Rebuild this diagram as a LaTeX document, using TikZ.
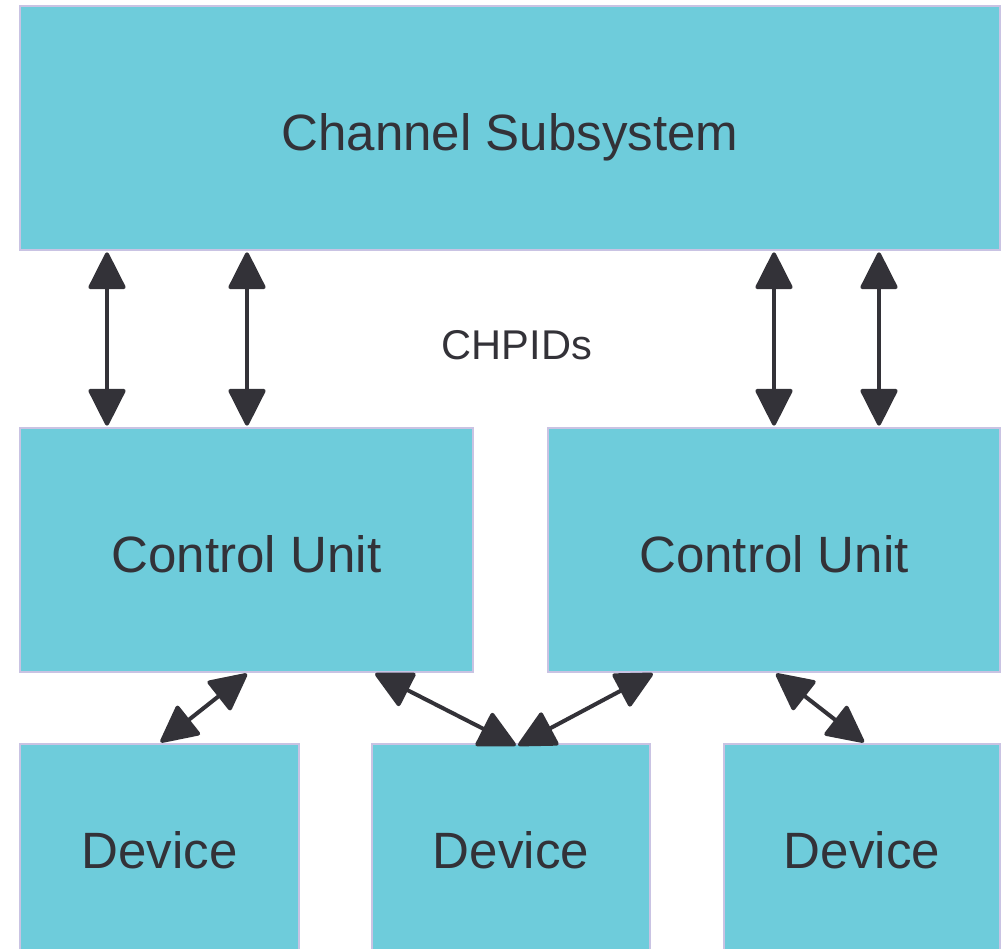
\documentclass[tikz,border=0pt]{standalone}
\usepackage{fontspec}
\setmainfont{Liberation Sans}
\usetikzlibrary{arrows.meta,calc}
\definecolor{boxfill}{HTML}{6ECCDB}
\definecolor{boxline}{HTML}{C9C3E3}
\definecolor{ink}{HTML}{333238}
\begin{document}
\begin{tikzpicture}[x=0.75pt,y=-0.75pt,
  block/.style={draw=boxline,line width=1.5pt,fill=boxfill,rectangle,inner sep=0pt,
    text=ink,font=\fontsize{38.3}{44}\selectfont,text depth=0pt},
  link/.style={draw=ink,line width=3pt,
    {Triangle[length=29.5pt,width=29pt,round]}-{Triangle[length=29.5pt,width=29pt,round]},
    shorten <=1pt,shorten >=1pt}]
\useasboundingbox (0,0) rectangle (1001,949);
\fill[white] (0,0) rectangle (1001,949);

% blocks
\node[block,text height=34pt,minimum width=980*0.75pt,minimum height=244*0.75pt] (cs) at (510,128) {Channel Subsystem};
\node[block,text height=33.2pt,minimum width=453*0.75pt,minimum height=244*0.75pt] (cul) at (246.5,550) {Control Unit};
\node[block,text height=33.2pt,minimum width=452*0.75pt,minimum height=244*0.75pt] (cur) at (774,550) {Control Unit};
\node[block,text height=27.2pt,minimum width=279*0.75pt,minimum height=213*0.75pt] (d1) at (159.5,850.5) {Device};
\node[block,text height=27.2pt,minimum width=278*0.75pt,minimum height=213*0.75pt] (d2) at (511,850.5) {Device};
\node[block,text height=27.2pt,minimum width=276*0.75pt,minimum height=213*0.75pt] (d3) at (862,850.5) {Device};

\node[text=ink,font=\fontsize{31.2}{36}\selectfont] (chpid) at (517,345) {CHPIDs};

% channel paths
\coordinate (a1) at ($(cul.north west)+(88,0)$);
\coordinate (a2) at ($(cul.north west)+(228,0)$);
\coordinate (a3) at ($(cur.north west)+(227,0)$);
\coordinate (a4) at ($(cur.north west)+(332,0)$);
\draw[link] (cs.south -| a1) -- (a1);
\draw[link] (cs.south -| a2) -- (a2);
\draw[link] (cs.south -| a3) -- (a3);
\draw[link] (cs.south -| a4) -- (a4);

% device links
\coordinate (b1) at ($(cul.south)+(1.5,0)$);
\coordinate (b2) at ($(cul.south east)+(-100,0)$);
\coordinate (b3) at ($(cur.south west)+(107,0)$);
\coordinate (b4) at ($(cur.south)+(1,0)$);
\coordinate (c2) at ($(d2.north)+(6,3)$);
\coordinate (c3) at ($(d3.north)+(3,0)$);
\draw[link] (b1) -- (d1.north);
\draw[link] (b2) -- (c2);
\draw[link] (b3) -- (c2);
\draw[link] (b4) -- (c3);
\end{tikzpicture}
\end{document}
